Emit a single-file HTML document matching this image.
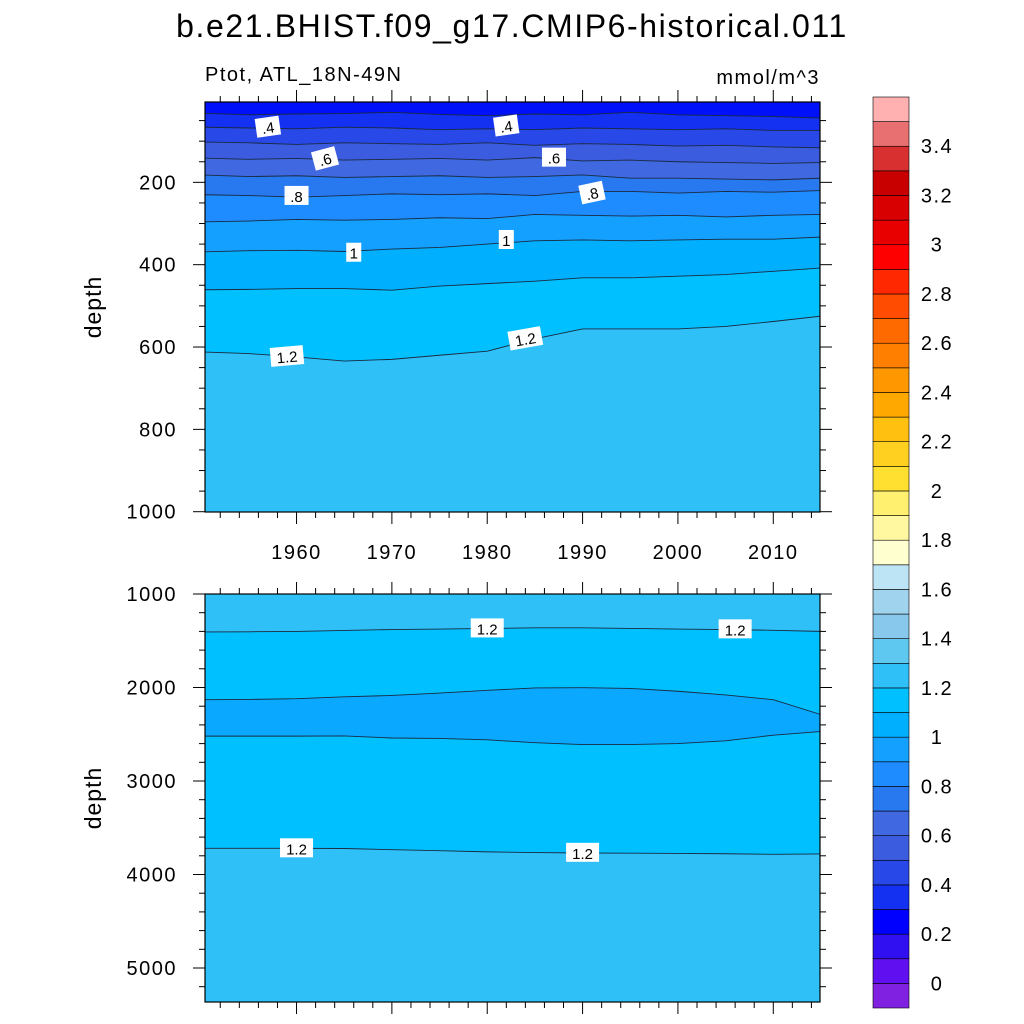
<!DOCTYPE html>
<html><head><meta charset="utf-8"><style>
body{margin:0;background:#fff}
svg{display:block;font-family:"Liberation Sans",sans-serif}
</style></head><body>
<svg id="chart" width="1024" height="1024" viewBox="0 0 1024 1024">
<text x="512" y="37" font-size="32" letter-spacing="1.6" text-anchor="middle">b.e21.BHIST.f09_g17.CMIP6-historical.011</text>
<text x="205" y="81" font-size="20" letter-spacing="1.5">Ptot, ATL_18N-49N</text>
<text x="820" y="84" font-size="20" letter-spacing="1.5" text-anchor="end">mmol/m^3</text>
<g id="top"></g>
<g id="bot"></g>
<g id="cbar"></g>
</svg>
<script>
// ---------- data ----------
const years = [1950,1955,1960,1965,1970,1975,1980,1985,1990,1995,2000,2005,2010,2015];
const topLevels = [0.3,0.4,0.5,0.6,0.7,0.8,0.9,1.0,1.1,1.2];
// depth (m) of each isoline per year, upper panel
const iso03 = [32,36,34,33,30,35,38,34,36,30,36,38,40,44];
const iso04 = [66,68,70,66,68,72,70,72,68,70,72,70,74,74];
const iso05 = [102,104,108,104,106,108,104,110,106,108,112,110,114,116];
const iso06 = [141,144,142,146,144,142,146,140,148,146,150,152,154,152];
const iso07 = [182,186,184,188,186,184,188,186,182,190,190,192,194,190];
const iso08 = [230,232,236,232,228,230,228,232,222,222,226,222,224,220];
const iso09 = [296,294,290,292,290,286,288,278,280,282,280,284,280,278];
const iso10 = [369,366,365,368,362,358,350,342,340,342,340,338,338,333];
const iso11 = [461,460,458,458,462,452,446,440,432,432,428,424,416,408];
const iso12 = [612,616,624,634,630,620,610,580,556,556,556,550,538,525];
const topIsos = [iso03,iso04,iso05,iso06,iso07,iso08,iso09,iso10,iso11,iso12];
// lower panel isolines
const botLevels = [1.2,1.1,1.1,1.2];
const bIso1 = [1406,1404,1400,1390,1380,1375,1368,1362,1362,1368,1375,1380,1388,1400];
const bIso2 = [2130,2128,2120,2100,2085,2060,2030,2005,2002,2010,2040,2080,2130,2290];
const bIso3 = [2520,2520,2520,2518,2540,2545,2560,2590,2610,2610,2600,2570,2510,2470];
const bIso4 = [3720,3720,3720,3722,3735,3745,3758,3765,3770,3772,3775,3778,3784,3780];
const botIsos = [bIso1,bIso2,bIso3,bIso4];
const botColors = ["#30c0f8","#00c0ff","#0aa8ff","#00c0ff","#30c0f8"];
const topColors = ["#0010f8","#1430f0","#2848e8","#3c5ce0","#4068e0","#2878f0","#1e8cff","#14a0ff","#00b0ff","#00c0ff","#30c0f8"];
const cbColors = ["#8020e0","#6010f0","#3010f0","#0000ff","#1430f0","#2848e8","#3c5ce0","#4068e0","#2878f0","#1e8cff","#14a0ff","#00b0ff","#00c0ff","#30c0f8","#5ec8f0","#88c8ec","#a0d4ee","#bce4f4","#ffffd0","#fff8a0","#fff070","#ffe030","#ffd020","#ffc010","#ffa800","#ff9800","#ff8000","#ff6a00","#ff4c00","#ff2800","#ff0000","#e80000","#d80000","#c80000","#d83030","#e87070","#ffb0b0"];
const cbLabels = ["0","0.2","0.4","0.6","0.8","1","1.2","1.4","1.6","1.8","2","2.2","2.4","2.6","2.8","3","3.2","3.4"];
const topYTicks = [200,400,600,800,1000];
const botYTicks = [1000,2000,3000,4000,5000];
const xTicks = [1960,1970,1980,1990,2000,2010];
const topLabels = [[1957,66,".4",-8],[1982,63,".4",-8],[1963,143,".6",-15],[1987,140,".6",0],[1960,233,".8",0],[1991,226,".8",-12],[1966,371,"1",0],[1982,340,"1",0],[1959,623,"1.2",-5],[1984,580,"1.2",-10]];
const botLabels = [[1980,1368,"1.2"],[2006,1378,"1.2"],[1960,3720,"1.2"],[1990,3768,"1.2"]];

// ---------- axes ----------
const NS="http://www.w3.org/2000/svg";
const X0=205,X1=820;
const xs = y => X0 + (y-1950.4)*(X1-X0)/(2014.9-1950.4);
const yTop = d => 100 + d*0.4117;
const yBot = d => 594 + (d-1000)*0.0935;
function mk(tag,attrs,parent){const e=document.createElementNS(NS,tag);for(const k in attrs)e.setAttribute(k,attrs[k]);parent.appendChild(e);return e;}

function drawPanel(g,isos,colors,yf,top,bot,yTicks,minorStep,dmin,dmax,showX,lbls){
  const clipId=g.id+"clip";
  const cp=mk("clipPath",{id:clipId},g);
  mk("rect",{x:X0,y:top,width:X1-X0,height:bot-top},cp);
  const cg=mk("g",{"clip-path":`url(#${clipId})`},g);
  const bg=mk("rect",{x:X0,y:top,width:X1-X0,height:bot-top,fill:colors[0]},cg);
  
  
  const px=years.map(xs);
  for(let i=0;i<isos.length;i++){
    let pts=years.map((yr,j)=>`${px[j]},${yf(isos[i][j])}`).join(" ");
    pts+=` ${X1+20},${yf(isos[i][years.length-1])} ${X1+20},${bot+5} ${X0-20},${bot+5} ${X0-20},${yf(isos[i][0])}`;
    const p=mk("polygon",{points:pts,fill:colors[i+1]},cg);
    
    
  }
  for(let i=0;i<isos.length;i++){
    const l=mk("polyline",{points:years.map((yr,j)=>`${px[j]},${yf(isos[i][j])}`).join(" "),fill:"none",stroke:"#1a2a40","stroke-width":0.9},cg);
    
    
  }
  for(const L of lbls){
    const cx=xs(L[0]),cy=yf(L[1]);const w=L[2].length*9+6;
    const lg=mk("g",{transform:`rotate(${L[3]||0} ${cx} ${cy})`},cg);
    
    
    mk("rect",{x:cx-w/2,y:cy-10,width:w,height:19,fill:"#fff"},lg);
    mk("text",{x:cx,y:cy+6,"font-size":15,"text-anchor":"middle"},lg).textContent=L[2];
  }
  const fr=mk("rect",{x:X0,y:top,width:X1-X0,height:bot-top,fill:"none",stroke:"#000","stroke-width":1.2},g);
  
  
  for(let d=dmin;d<=dmax;d+=minorStep){
    const y=yf(d);if(y<top-0.5||y>bot+0.5)continue;
    const maj=yTicks.includes(d);const L=maj?12:6;
    mk("line",{x1:X0-L,x2:X0,y1:y,y2:y,stroke:"#000","stroke-width":1},g);
    mk("line",{x1:X1,x2:X1+L,y1:y,y2:y,stroke:"#000","stroke-width":1},g);
  }
  for(const d of yTicks){
    const t=mk("text",{x:X0-28,y:yf(d)+7,"font-size":20,"letter-spacing":1.5,"text-anchor":"end"},g);
    
    
    t.textContent=d;
  }
  for(let yr=1952;yr<=2014;yr+=2){
    const x=xs(yr);const maj=yr%10==0;const L=maj?12:6;
    mk("line",{x1:x,x2:x,y1:top-L,y2:top,stroke:"#000","stroke-width":1},g);
    mk("line",{x1:x,x2:x,y1:bot,y2:bot+L,stroke:"#000","stroke-width":1},g);
  }
  if(showX)for(const yr of xTicks){
    const t=mk("text",{x:xs(yr),y:bot+47,"font-size":20,"letter-spacing":1.5,"text-anchor":"middle"},g);
    
    
    t.textContent=yr;
  }
  const cyy=(top+bot)/2;
  const at=mk("text",{x:0,y:0,"font-size":23,"letter-spacing":1,"text-anchor":"middle",transform:`translate(101 ${cyy}) rotate(-90)`},g);
  
  
  at.textContent="depth";
}
drawPanel(document.getElementById("top"),topIsos,topColors,yTop,102,512,topYTicks,50,0,1000,true,topLabels);
drawPanel(document.getElementById("bot"),botIsos,botColors,yBot,594,1002,botYTicks,200,1000,5400,false,botLabels.map(l=>[l[0],l[1],l[2],0]));

// colorbar
const cb=document.getElementById("cbar");
const cbTop=97,cbBot=1008,n=cbColors.length,bh=(cbBot-cbTop)/n;
for(let i=0;i<n;i++){
  const r=mk("rect",{x:873,y:cbBot-(i+1)*bh,width:36,height:bh,fill:cbColors[i],stroke:"#000","stroke-width":0.6},cb);
  
  
}
for(let k=0;k<cbLabels.length;k++){
  const y=cbBot-(1+2*k)*bh;
  const t=mk("text",{x:937,y:y+7,"font-size":20,"letter-spacing":1.5,"text-anchor":"middle"},cb);
  
  
  t.textContent=cbLabels[k];
}
</script>
</body></html>
